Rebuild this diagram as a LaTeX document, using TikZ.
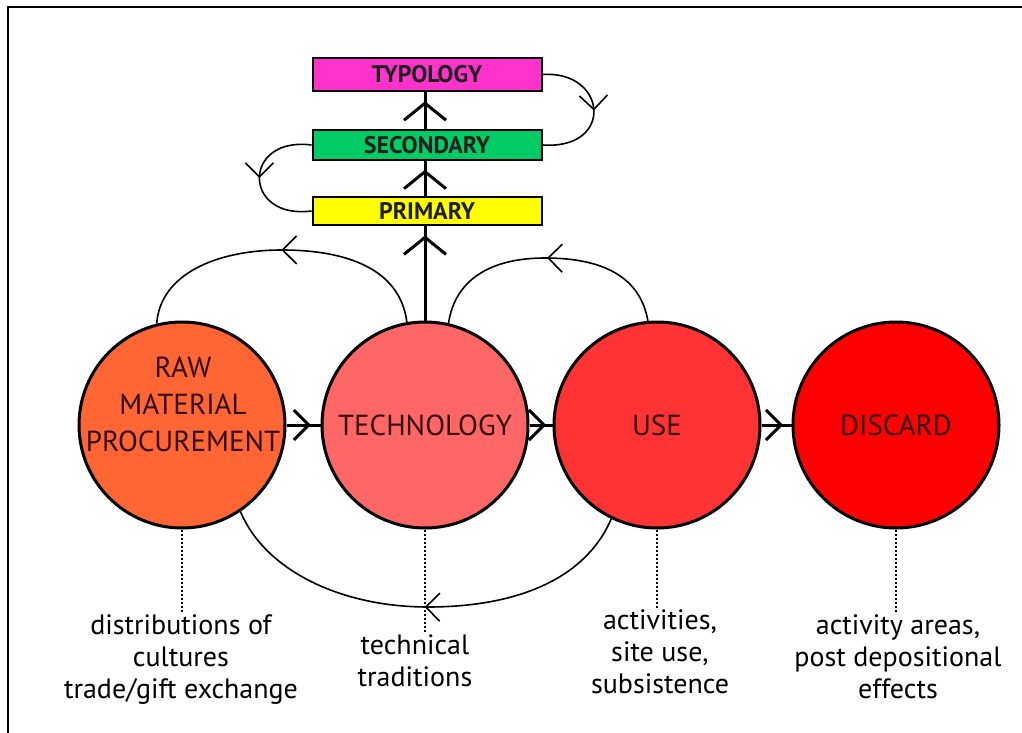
\documentclass[tikz,border=0pt]{standalone}
\usepackage{fontspec}
\setmainfont{PT Sans}
\usetikzlibrary{arrows.meta,decorations.markings}
\definecolor{rawc}{RGB}{255,102,51}
\definecolor{techc}{RGB}{255,102,102}
\definecolor{usec}{RGB}{255,51,51}
\definecolor{discc}{RGB}{255,0,0}
\definecolor{typc}{RGB}{255,51,204}
\definecolor{secc}{RGB}{0,204,102}
\definecolor{primc}{RGB}{255,255,0}
\definecolor{txtc}{RGB}{50,10,10}
\begin{document}
\begin{tikzpicture}[x=1pt,y=-1pt,
  thinbarb/.tip={Straight Barb[length=14pt,width=28pt]},
  horbarb/.tip={Straight Barb[length=15pt,width=30pt]},
  bigbarb/.tip={Straight Barb[length=17pt,width=42pt]},
  markat/.style 2 args={postaction={decorate},decoration={markings,mark=at position #1 with {\arrow{#2}}}},
  circ/.style={circle,draw=black,line width=3pt,minimum size=206pt,inner sep=0pt,
    font=\fontsize{29}{37}\selectfont,text=txtc,align=center},
  boxn/.style={rectangle,draw=black,line width=2pt,minimum width=229pt,inner sep=0pt,
    font=\bfseries\fontsize{24}{26}\selectfont,text={rgb,255:red,30;green,30;blue,30}},
  thick3/.style={line width=3pt},
  thin1/.style={line width=1.6pt},
  dotline/.style={line width=1.2pt,dash pattern=on 2pt off 2pt},
  lab/.style={font=\fontsize{28}{32}\selectfont,align=center,inner sep=2pt}
]
\useasboundingbox (0,0) rectangle (1022,733);
% frame
\draw[line width=2pt] (8,733) -- (8,7) -- (1022,7);

% circles
\node[circ,fill=rawc] (raw) at (182,425) {};
\node[font=\fontsize{29}{37}\selectfont,text=txtc,align=center] (rawtxt) at (183,404) {RAW\\MATERIAL\\PROCUREMENT};
\node[circ,fill=techc] (tech) at (425,425) {TECHNOLOGY};
\node[circ,fill=usec] (use) at (657,425) {USE};
\node[circ,fill=discc] (disc) at (896,425) {DISCARD};

% boxes
\node[boxn,fill=typc,minimum height=33pt] (typ) at (427,74.5) {TYPOLOGY};
\node[boxn,fill=secc,minimum height=30pt] (sec) at (427,145) {SECONDARY};
\node[boxn,fill=primc,minimum height=28pt] (prim) at (427,211) {PRIMARY};

% horizontal arrows
\draw[thick3,markat={0.72}{horbarb}] (raw.east) -- (tech.west);
\draw[thick3,markat={0.72}{horbarb}] (tech.east) -- (use.west);
\draw[thick3,markat={0.72}{horbarb}] (use.east) -- (disc.west);

% vertical arrows
\draw[thick3,markat={0.9}{bigbarb}] (tech.north) -- (tech.north |- prim.south);
\draw[thick3,markat={0.75}{bigbarb}] (tech.north |- prim.north) -- (tech.north |- sec.south);
\draw[thick3,markat={0.75}{bigbarb}] (tech.north |- sec.north) -- (tech.north |- typ.south);

% box loops
\draw[thin1,markat={0.5}{thinbarb}] (typ.east) .. controls (607,70) and (615,150) .. (sec.east);
\draw[thin1,markat={0.5}{thinbarb}] (sec.west) .. controls (242,136) and (242,220) .. (prim.west);

% arcs over circles
\draw[thin1,markat={0.5}{thinbarb}] (tech.100) .. controls (400,268) and (345,250) .. (282,250)
   .. controls (215,250) and (160,275) .. (raw.104);
\draw[thin1,markat={0.5}{thinbarb}] (use.95) .. controls (640,275) and (600,258) .. (545,258)
   .. controls (490,258) and (455,280) .. (tech.77);
\draw[thin1,markat={0.5}{thinbarb}] (use.-116) .. controls (585,580) and (515,607) .. (428,607)
   .. controls (340,607) and (265,570) .. (raw.-56);

% labels
\node[lab] (rawlab) at (181,660) {distributions of\\cultures\\trade/gift exchange};
\node[lab] (techlab) at (415,661) {technical\\traditions};
\node[lab] (uselab) at (660,652) {activities,\\site use,\\subsistence};
\node[lab] (disclab) at (898,657) {activity areas,\\post depositional\\effects};

\draw[dotline] (raw.south) -- (raw.south |- rawlab.north);
\draw[dotline] (tech.south) -- (tech.south |- techlab.north);
\draw[dotline] (use.south) -- (use.south |- uselab.north);
\draw[dotline] (disc.south) -- (disc.south |- disclab.north);
\end{tikzpicture}
\end{document}
